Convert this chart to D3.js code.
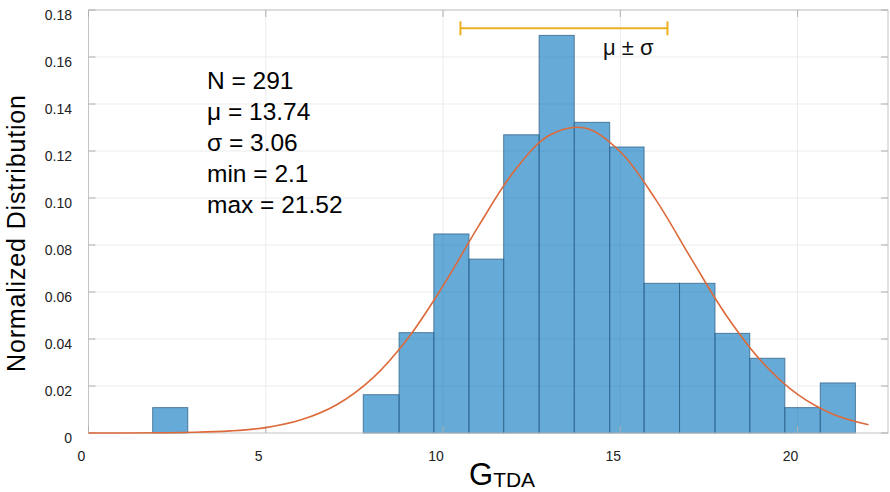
<!DOCTYPE html>
<html>
<head>
<meta charset="utf-8">
<script src="https://cdn.jsdelivr.net/npm/d3@7"></script>
<style>
  body { margin: 0; background: #fff; }
  svg { display: block; font-family: "Liberation Sans", Arial, sans-serif; }
</style>
</head>
<body>
<svg id="chart" width="890" height="492"></svg>
<script>
// histogram bins (bin edges + normalized heights)
const binEdges = [1.81, 2.80, 3.79, 4.78, 5.77, 6.76, 7.75, 8.76, 9.74, 10.73, 11.71,
                  12.71, 13.70, 14.70, 15.67, 16.67, 17.67, 18.65, 19.64, 20.64, 21.63];
const binValues = [0.0108, 0, 0, 0, 0, 0, 0.0163, 0.0427, 0.0847, 0.0740, 0.1269,
                   0.1692, 0.1322, 0.1217, 0.0637, 0.0637, 0.0424, 0.0318, 0.0108, 0.0213];

// fitted curve, read at whole x values
const curveX = [0, 1, 2, 3, 4, 5, 6, 7, 8, 9, 10, 11, 12, 13, 14, 15, 16, 17, 18, 19, 20, 21, 22];
const curveY = [0, 0, 0.0001, 0.0003, 0.0009, 0.0023, 0.0056, 0.0120, 0.0231, 0.0401, 0.0626,
                0.0880, 0.1113, 0.1267, 0.1298, 0.1197, 0.0993, 0.0742, 0.0498, 0.0302, 0.0164,
                0.0080, 0.0035];

const xTicks = [0, 5, 10, 15, 20];
const yTicks = [0, 0.02, 0.04, 0.06, 0.08, 0.10, 0.12, 0.14, 0.16, 0.18];
const yTickLabels = ['0', '0.02', '0.04', '0.06', '0.08', '0.10', '0.12', '0.14', '0.16', '0.18'];

const statLines = ['N = 291', 'μ = 13.74', 'σ = 3.06', 'min = 2.1', 'max = 21.52'];
const errRange = [10.49, 16.33];
const errLevel = 0.1722;

const svg = d3.select('#chart');
const plotL = 88.5, plotR = 888, plotT = 10, plotB = 433;

const x = d3.scaleLinear().domain([0, 22.55]).range([plotL, plotR]);
const y = d3.scaleLinear().domain([0, 0.18]).range([plotB, plotT]);

// grid
const grid = svg.append('g').attr('stroke', '#ebebeb').attr('stroke-width', 1);
grid.selectAll('.gx').data(xTicks.slice(1)).enter().append('line')
  .attr('x1', d => x(d)).attr('x2', d => x(d))
  .attr('y1', plotT).attr('y2', plotB);
grid.selectAll('.gy').data(yTicks.slice(1)).enter().append('line')
  .attr('x1', plotL).attr('x2', plotR)
  .attr('y1', d => y(d)).attr('y2', d => y(d));

// bars
const bars = binValues.map((v, i) => ({x0: binEdges[i], x1: binEdges[i + 1], v}))
  .filter(d => d.v > 0);
svg.append('g').selectAll('rect').data(bars).enter().append('rect')
  .attr('x', d => x(d.x0))
  .attr('width', d => x(d.x1) - x(d.x0))
  .attr('y', d => y(d.v))
  .attr('height', d => y(0) - y(d.v))
  .attr('fill', '#0072bd')
  .attr('fill-opacity', 0.6)
  .attr('stroke', '#33658c')
  .attr('stroke-opacity', 0.8)
  .attr('stroke-width', 1);

// box and ticks
svg.append('rect')
  .attr('x', plotL).attr('y', plotT)
  .attr('width', plotR - plotL).attr('height', plotB - plotT)
  .attr('fill', 'none').attr('stroke', '#c4c4c4').attr('stroke-width', 1);

const ticks = svg.append('g').attr('stroke', '#b0b0b0').attr('stroke-width', 1);
xTicks.forEach(t => {
  ticks.append('line').attr('x1', x(t)).attr('x2', x(t)).attr('y1', plotB).attr('y2', plotB - 7);
  ticks.append('line').attr('x1', x(t)).attr('x2', x(t)).attr('y1', plotT).attr('y2', plotT + 7);
});
yTicks.forEach(t => {
  ticks.append('line').attr('x1', plotL).attr('x2', plotL + 7).attr('y1', y(t)).attr('y2', y(t));
  ticks.append('line').attr('x1', plotR).attr('x2', plotR - 7).attr('y1', y(t)).attr('y2', y(t));
});

// fitted curve
const line = d3.line()
  .x((d, i) => x(curveX[i]))
  .y(d => y(d))
  .curve(d3.curveCatmullRom);
svg.append('path')
  .attr('d', line(curveY))
  .attr('fill', 'none')
  .attr('stroke', '#dc6a3a')
  .attr('stroke-width', 1.6);

// mu +/- sigma bar
const eb = svg.append('g').attr('stroke', '#edb120').attr('stroke-width', 2);
eb.append('line').attr('x1', x(errRange[0])).attr('x2', x(errRange[1]))
  .attr('y1', y(errLevel)).attr('y2', y(errLevel));
errRange.forEach(v => {
  eb.append('line').attr('x1', x(v)).attr('x2', x(v))
    .attr('y1', y(errLevel) - 7).attr('y2', y(errLevel) + 7);
});
svg.append('text')
  .attr('x', 603).attr('y', 55)
  .attr('font-size', 22).attr('fill', '#111')
  .text('μ ± σ');

// tick labels
svg.append('g').selectAll('text').data(xTicks).enter().append('text')
  .attr('x', d => x(d) - 7)
  .attr('y', 461)
  .attr('text-anchor', 'middle')
  .attr('font-size', 14).attr('fill', '#222')
  .text(d => d);
svg.append('g').selectAll('text').data(yTicks).enter().append('text')
  .attr('x', 72)
  .attr('y', d => y(d) + 10)
  .attr('text-anchor', 'end')
  .attr('font-size', 14).attr('fill', '#222')
  .text((d, i) => yTickLabels[i]);

// stats block
svg.append('g').selectAll('text').data(statLines).enter().append('text')
  .attr('x', 207)
  .attr('y', (d, i) => 89 + i * 31)
  .attr('font-size', 24.5).attr('fill', '#000')
  .text(d => d);

// axis labels
svg.append('text')
  .attr('transform', 'translate(25,372) rotate(-90)')
  .attr('font-size', 25)
  .attr('textLength', 277).attr('lengthAdjust', 'spacing')
  .attr('fill', '#000')
  .text('Normalized Distribution');

const xl = svg.append('text').attr('x', 469).attr('y', 485).attr('fill', '#000');
xl.append('tspan').attr('font-size', 31).text('G');
xl.append('tspan').attr('font-size', 21).attr('dy', 2).text('TDA');
</script>
</body>
</html>
